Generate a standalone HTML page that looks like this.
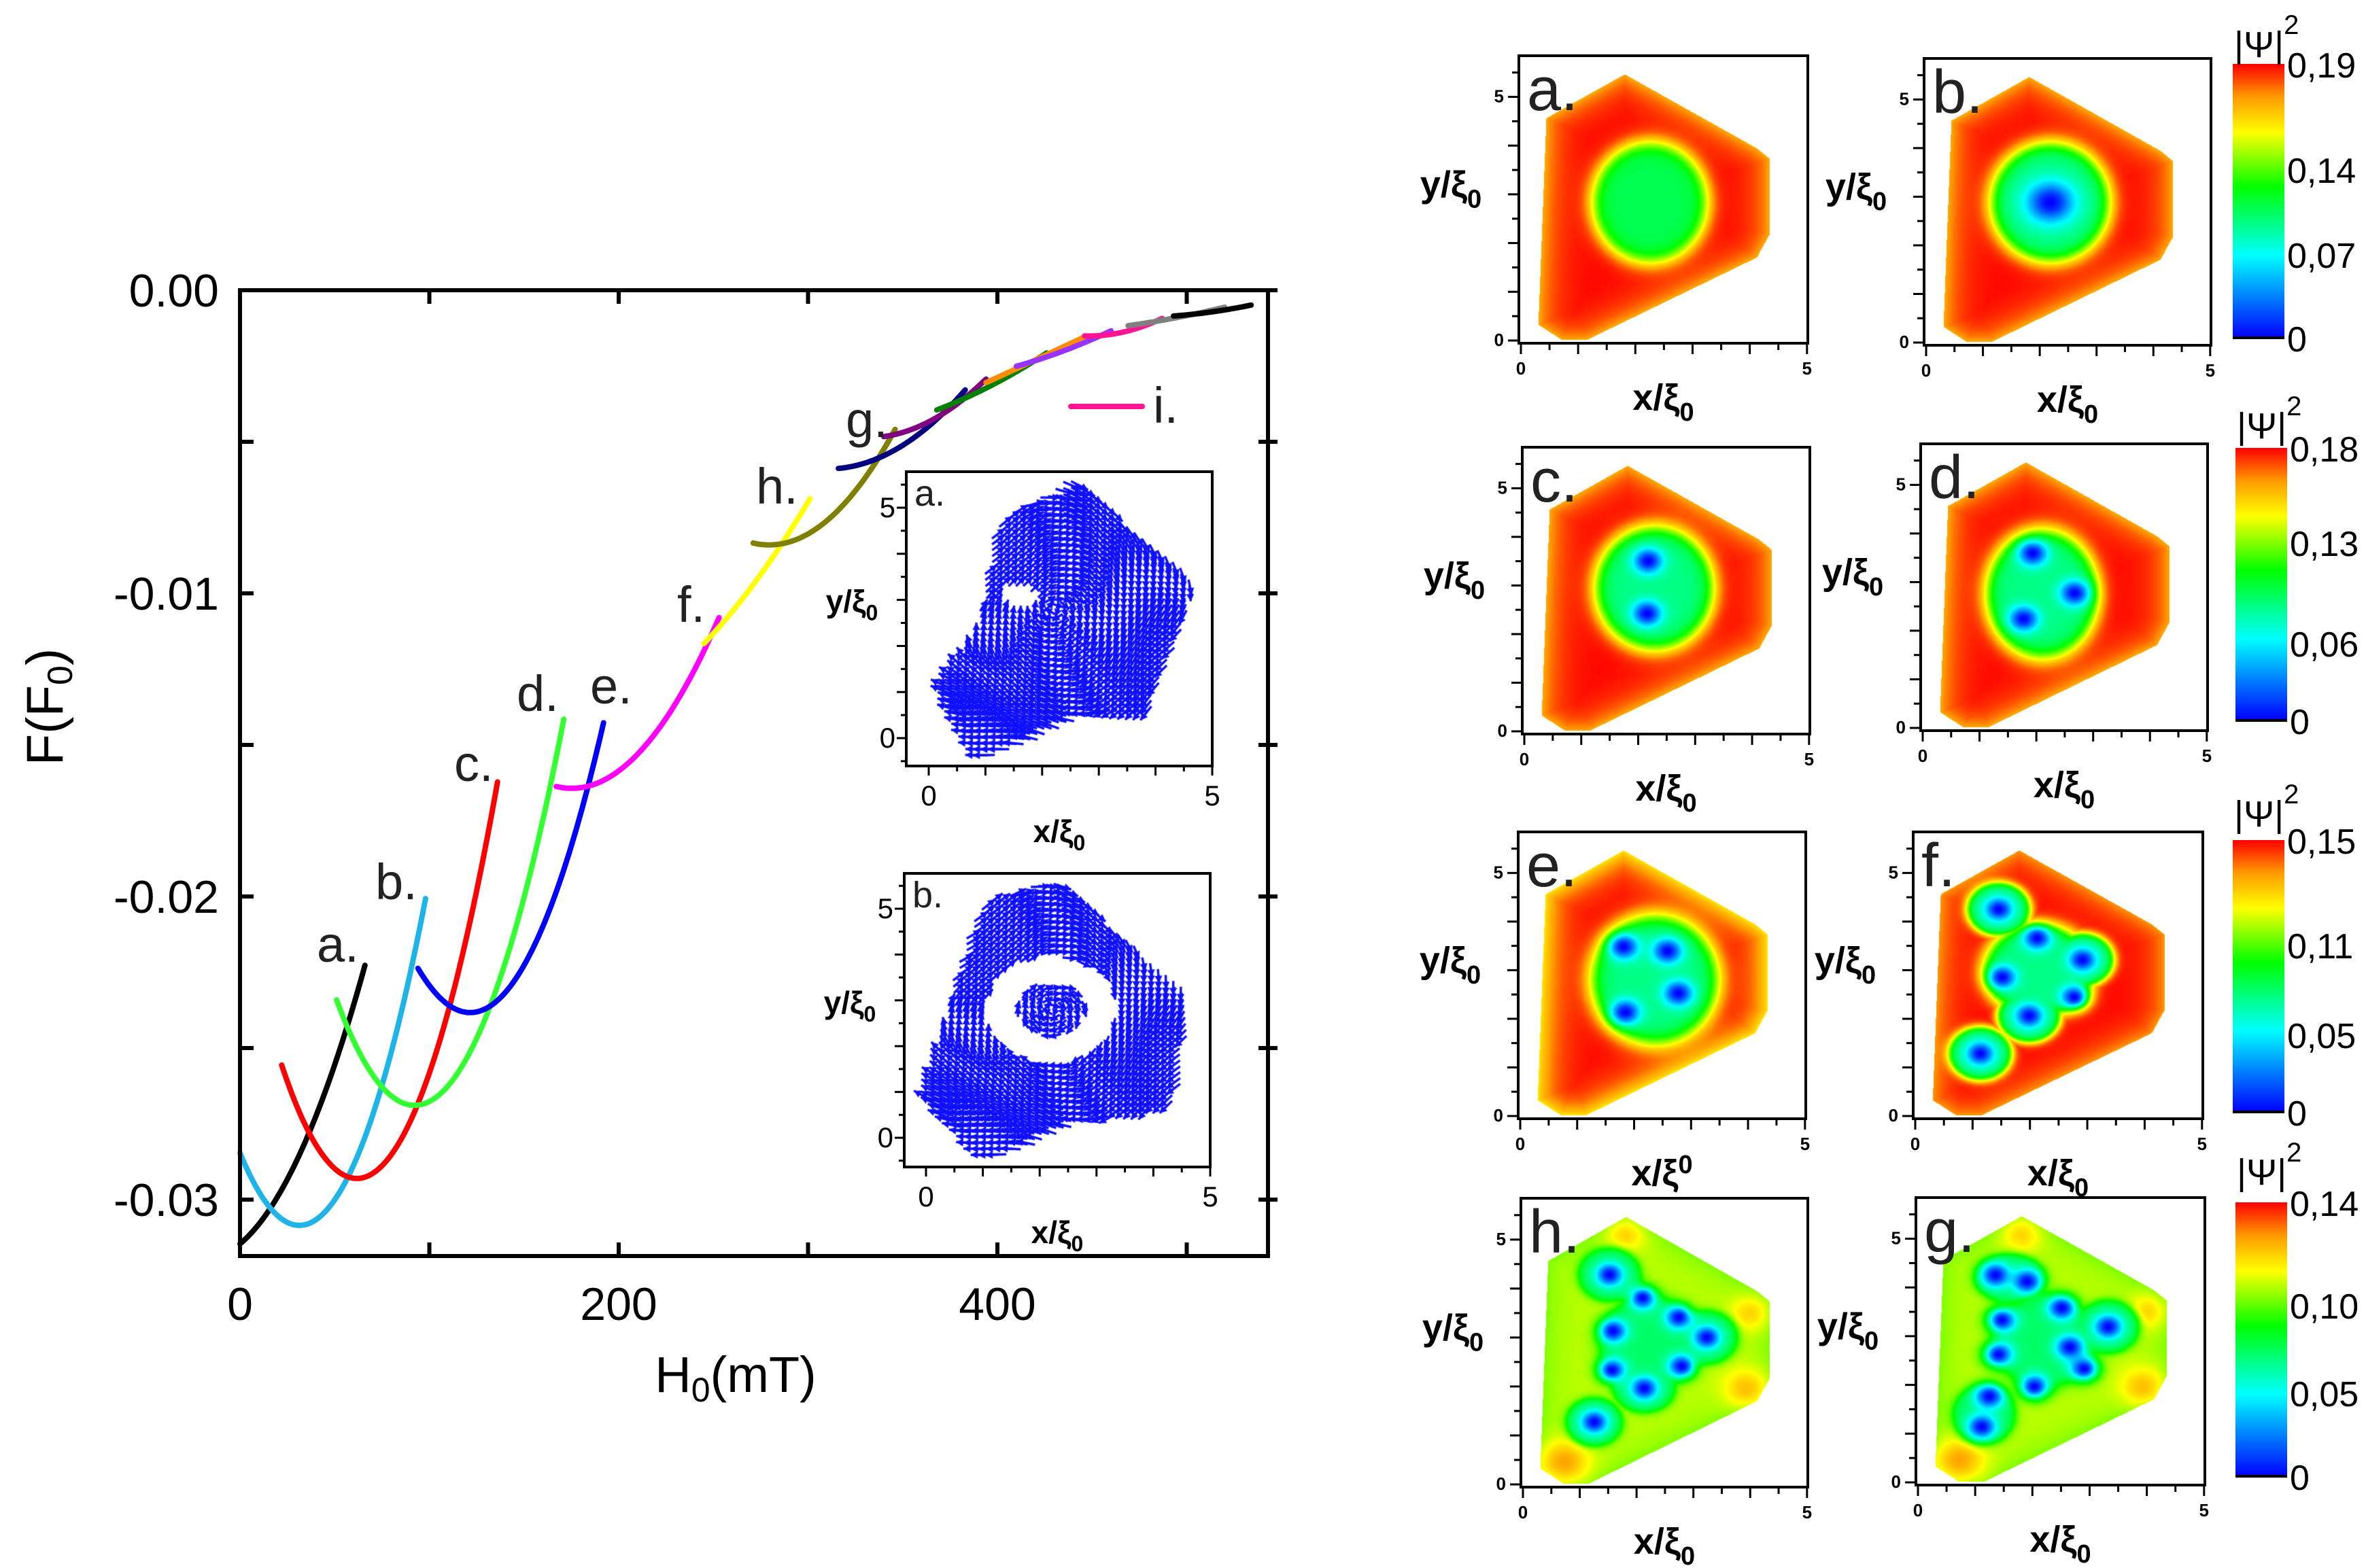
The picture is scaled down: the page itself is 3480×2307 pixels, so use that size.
<!DOCTYPE html>
<html><head><meta charset="utf-8">
<style>
html,body{margin:0;padding:0;background:#fff;}
#wrap{position:relative;width:3480px;height:2307px;overflow:hidden;background:#fff;}
canvas,svg{position:absolute;left:0;top:0;}
text{font-family:"Liberation Sans",Arial,sans-serif;}
</style></head>
<body>
<div id="wrap">
<canvas id="cv" width="3480" height="2307"></canvas>
<svg id="sv" width="3480" height="2307" viewBox="0 0 3480 2307" xmlns="http://www.w3.org/2000/svg">
<defs>
<linearGradient id="jet" x1="0" y1="1" x2="0" y2="0">
<stop offset="0" stop-color="#0000ff"/><stop offset="0.3" stop-color="#00ffff"/><stop offset="0.55" stop-color="#00ff00"/><stop offset="0.75" stop-color="#ffff00"/><stop offset="0.88" stop-color="#ff9900"/><stop offset="1" stop-color="#ff0000"/>
</linearGradient>
</defs>
</svg>
</div>
<script>
// ---------- main chart data ----------
const curveLabels=['a','b','c','d','e','f','f2','h','g','g2','g3','g4','g5','i','j','k'];
const curveH=[[0,33,66],[0,31,98],[22,58,136],[51,90,171],[94,122,192],[167,181,253],[245,270,301],[271,310,346],[316,345,383],[340,365,394],[368,395,426],[394,420,447],[410,435,460],[446,465,487],[469,495,520],[493,515,534]];
const curveF=[[-0.03146,-0.0283,-0.02227],[-0.02846,-0.03085,-0.02007],[-0.02556,-0.02927,-0.01622],[-0.02341,-0.02688,-0.01415],[-0.02237,-0.02383,-0.01427],[-0.01637,-0.0164,-0.0108],[-0.01166,-0.0098,-0.00688],[-0.00834,-0.0076,-0.00459],[-0.00588,-0.0053,-0.00329],[-0.00483,-0.0043,-0.00293],[-0.00395,-0.0032,-0.00207],[-0.00305,-0.0023,-0.00151],[-0.00251,-0.0020,-0.00134],[-0.00151,-0.0014,-0.00093],[-0.00117,-0.0009,-0.00056],[-0.00085,-0.0007,-0.00049]];
const curveColors=['#000000','#1eb4e8','#ff0000','#33ff33','#0000ff','#ff00ff','#ffff00','#808000','#000080','#800080','#008000','#ff8c00','#9933ff','#ff1493','#808080','#000000'];
const xTicks=[0,200,400];
const yTicks=[0,-0.01,-0.02,-0.03];
const yTickLabels=['0.00','-0.01','-0.02','-0.03'];

const NS='http://www.w3.org/2000/svg';
const sv=document.getElementById('sv');
function mk(tag,at,parent){const e=document.createElementNS(NS,tag);for(const k in at)e.setAttribute(k,at[k]);(parent||sv).appendChild(e);return e;}

const PL=353,PR=1865,PT=427,PB=1848;
const xs=h=>PL+h*2.785;
const ys=f=>PT-f*44600;

function lag(xa,ya,x){let s=0;for(let i=0;i<3;i++){let t=ya[i];for(let j=0;j<3;j++)if(j!==i)t*=(x-xa[j])/(xa[i]-xa[j]);s+=t;}return s;}
curveH.forEach((hx,i)=>{
  let d='';
  for(let k=0;k<=60;k++){const h=hx[0]+(hx[2]-hx[0])*k/60;const f=lag(hx,curveF[i],h);d+=(k?'L':'M')+xs(h).toFixed(1)+','+ys(f).toFixed(1);}
  const p=mk('path',{d:d,fill:'none',stroke:curveColors[i],'stroke-width':8,'stroke-linecap':'round'});
  
  
});
const fr=mk('rect',{x:PL,y:PT,width:PR-PL,height:PB-PT,fill:'none',stroke:'#000','stroke-width':6});


for(let h=0;h<=500;h+=100){
  const t1=mk('line',{x1:xs(h),x2:xs(h),y1:PB,y2:PB-20,stroke:'#000','stroke-width':6});
  
  
  const t2=mk('line',{x1:xs(h),x2:xs(h),y1:PT,y2:PT+20,stroke:'#000','stroke-width':6});
  
  
}
for(let k=0;k<=6;k++){const f=-0.005*k;
  const t1=mk('line',{x1:PL,x2:PL+20,y1:ys(f),y2:ys(f),stroke:'#000','stroke-width':6});
  
  
  const t2=mk('line',{x1:PR-14,x2:PR+14,y1:ys(f),y2:ys(f),stroke:'#000','stroke-width':6});
  
  
}
xTicks.forEach(h=>{const t=mk('text',{x:xs(h),y:1942,'font-size':68,'text-anchor':'middle'});t.textContent=h;
  
  });
yTicks.forEach((f,i)=>{const t=mk('text',{x:322,y:ys(f)+24,'font-size':68,'text-anchor':'end'});t.textContent=yTickLabels[i];
  
  });
const xt=mk('text',{x:1082,y:2048,'font-size':74,'text-anchor':'middle'});
xt.innerHTML='H<tspan font-size="50" dy="14">0</tspan><tspan dy="-14">(mT)</tspan>';


const yt=mk('text',{x:0,y:0,'font-size':76,'text-anchor':'middle',transform:'translate(92,1040) rotate(-90)'});
yt.innerHTML='F(F<tspan font-size="52" dy="14">0</tspan><tspan dy="-14">)</tspan>';


const lbls=[['a.',466,1415],['b.',552,1323],['c.',668,1149],['d.',760,1046],['e.',868,1035],['f.',996,915],['h.',1112,741],['g.',1244,643],['i.',1696,622]];
lbls.forEach(l=>{const t=mk('text',{x:l[1],y:l[2],'font-size':74,fill:'#222'});t.textContent=l[0];
  
  });
const il=mk('line',{x1:1575,x2:1680,y1:598,y2:598,stroke:'#ff1493','stroke-width':8,'stroke-linecap':'round'});



// ---------- canvas ----------
const cv=document.getElementById('cv');const ctx=cv.getContext('2d');
function jet(t){t=Math.max(0,Math.min(1,t));
  const st=[[0,0,0,255],[0.3,0,255,255],[0.55,0,255,0],[0.75,255,255,0],[0.88,255,153,0],[1,255,0,0]];
  for(let i=1;i<st.length;i++){if(t<=st[i][0]){const a=st[i-1],b=st[i],u=(t-a[0])/(b[0]-a[0]);return [a[1]+(b[1]-a[1])*u,a[2]+(b[2]-a[2])*u,a[3]+(b[3]-a[3])*u];}}
  return [255,0,0];}
const poly=[[0.44,4.57],[1.81,5.47],[4.12,3.95],[4.34,3.74],[4.34,2.18],[4.12,1.71],[1.15,0.02],[0.71,0.02],[0.30,0.33]];
function inside(P,x,y){let c=false;for(let i=0,j=P.length-1;i<P.length;j=i++){const a=P[i],b=P[j];if((a[1]>y)!==(b[1]>y)&&x<(b[0]-a[0])*(y-a[1])/(b[1]-a[1])+a[0])c=!c;}return c;}
function edist(P,x,y){let m=1e9;for(let i=0,j=P.length-1;i<P.length;j=i++){const a=P[j],b=P[i];const dx=b[0]-a[0],dy=b[1]-a[1];let t=((x-a[0])*dx+(y-a[1])*dy)/(dx*dx+dy*dy);t=Math.max(0,Math.min(1,t));const ex=a[0]+t*dx-x,ey=a[1]+t*dy-y;m=Math.min(m,Math.hypot(ex,ey));}return m;}

const panels=[
 {n:'a',L:2234,R:2659,T:82,B:505,base:1.0,inner:0.47,edge:0.14,isl:[[2.25,2.84,1.0,1.23]],vx:[],rc:0.2,blobs:[]},
 {n:'b',L:2830,R:3252,T:86,B:508,base:1.0,inner:0.42,edge:0.14,isl:[[2.18,2.89,1.04,1.22]],vx:[[2.18,2.89]],rc:0.42,blobs:[]},
 {n:'c',L:2239,R:2662,T:658,B:1080,base:1.0,inner:0.42,edge:0.14,isl:[[2.28,2.95,1.03,1.26]],vx:[[2.17,3.51],[2.15,2.43]],rc:0.25,blobs:[]},
 {n:'d',L:2825,R:3247,T:653,B:1075,base:1.0,inner:0.42,edge:0.14,isl:[[2.1,2.76,0.98,1.31]],vx:[[1.93,3.6],[2.67,2.78],[1.77,2.25]],rc:0.25,blobs:[]},
 {n:'e',L:2233,R:2656,T:1224,B:1646,base:1.0,inner:0.42,edge:0.22,isl:[[2.36,2.81,1.11,1.32]],vx:[[1.81,3.49],[2.58,3.4],[2.77,2.53],[1.84,2.14]],rc:0.25,blobs:[]},
 {n:'f',L:2814,R:3240,T:1224,B:1646,base:1.0,inner:0.42,edge:0.12,isl:[[2.15,3.0,0.95,0.95],[1.45,4.26,0.55,0.55],[1.13,1.29,0.55,0.55],[2.91,3.22,0.55,0.55],[1.98,2.07,0.55,0.55]],vx:[[1.45,4.26],[2.12,3.67],[2.91,3.22],[1.51,2.86],[2.77,2.45],[1.98,2.07],[1.13,1.29]],rc:0.23,blobs:[]},
 {n:'h',L:2237,R:2659,T:1763,B:2188,base:0.7,inner:0.45,edge:0.05,isl:[[2.2,2.9,0.85,0.95],[1.52,4.29,0.55,0.55],[3.23,3.01,0.55,0.55],[1.25,1.28,0.5,0.5],[2.13,1.97,0.55,0.5]],vx:[[1.52,4.29],[2.1,3.82],[2.74,3.42],[3.23,3.01],[1.58,3.14],[1.56,2.34],[2.79,2.42],[2.13,1.97],[1.25,1.28]],rc:0.23,blobs:[[0.7,0.45,0.18,0.45],[1.8,5.1,0.12,0.35],[3.95,1.95,0.15,0.4],[4.0,3.5,0.12,0.35]]},
 {n:'g',L:2818,R:3243,T:1762,B:2185,base:0.7,inner:0.45,edge:0.05,isl:[[2.2,2.9,0.85,0.95],[1.6,4.2,0.6,0.5],[3.32,3.2,0.55,0.55],[1.15,1.4,0.55,0.6]],vx:[[1.35,4.26],[1.9,4.13],[2.51,3.59],[3.32,3.2],[1.46,3.34],[2.65,2.78],[2.9,2.34],[1.4,2.63],[2.03,1.97],[1.24,1.77],[1.11,1.15]],rc:0.24,blobs:[[0.7,0.45,0.18,0.45],[1.8,5.1,0.12,0.35],[3.95,1.95,0.15,0.4],[4.0,3.5,0.12,0.35]]}
];
function sm(q,w){return 1/(1+Math.exp((q-1)/w));}
panels.forEach(p=>{
  const W=p.R-p.L,Hh=p.B-p.T;const xu=W/5.05,yu=Hh/5.9;const x0=p.L+3,y0=p.B-4;
  const img=ctx.createImageData(W,Hh);const D=img.data;
  for(let py=0;py<Hh;py++)for(let px=0;px<W;px++){
    const x=(p.L+px-x0)/xu,y=(y0-(p.T+py))/yu;
    if(!inside(poly,x,y))continue;
    const d=edist(poly,x,y);
    let v=p.base-p.edge*Math.exp(-d/0.3);
    p.blobs.forEach(b=>{const r2=(x-b[0])**2+(y-b[1])**2;v+=b[2]*Math.exp(-r2/(b[3]*b[3]));});
    let m=0;p.isl.forEach(s=>{const q=Math.hypot((x-s[0])/s[2],(y-s[1])/s[3]);m=Math.max(m,sm(q,0.09));});
    v=v*(1-m)+p.inner*m;
    p.vx.forEach(c=>{const r2=(x-c[0])**2+(y-c[1])**2;v*=(1-Math.exp(-r2/(p.rc*p.rc)));});
    const c=jet(v);const k=(py*W+px)*4;D[k]=c[0];D[k+1]=c[1];D[k+2]=c[2];D[k+3]=255;
  }
  ctx.putImageData(img,p.L,p.T);
  const g=mk('g',{});
  
  
  const r=mk('rect',{x:p.L,y:p.T,width:W,height:Hh,fill:'none',stroke:'#000','stroke-width':4},g);
  
  
  for(let k=0;k<=10;k++){const X=x0+k*0.5*xu;mk('line',{x1:X,x2:X,y1:p.B,y2:p.B+(k%2?10:16),stroke:'#000','stroke-width':3},g);}
  for(let k=0;k<=11;k++){const Y=y0-k*0.5*yu;if(Y<p.T)break;mk('line',{x1:p.L,x2:p.L-(k%2?10:16),y1:Y,y2:Y,stroke:'#000','stroke-width':3},g);}
  const tl=[[x0,p.B+46,'0','middle'],[x0+5*xu,p.B+46,'5','middle'],[p.L-22,y0+8,'0','end'],[p.L-22,y0-5*yu+8,'5','end']];
  tl.forEach(a=>{const t=mk('text',{x:a[0],y:a[1],'font-size':26,'font-weight':'bold','text-anchor':a[3]},g);t.textContent=a[2];
    
    });
  const lt=mk('text',{x:p.L+12,y:p.T+80,'font-size':90,fill:'#222'},g);lt.textContent=p.n+'.';
  
  
  const xl=mk('text',{x:p.L+W/2,y:p.B+98,'font-size':54,'font-weight':'bold','text-anchor':'middle'},g);
  xl.innerHTML=p.n==='e'?'x/ξ<tspan font-size="38" dy="-18">0</tspan>':'x/ξ<tspan font-size="38" dy="16">0</tspan>';
  
  
  const yl=mk('text',{x:p.L-100,y:p.T+Hh/2-4,'font-size':54,'font-weight':'bold','text-anchor':'middle'},g);
  yl.innerHTML='y/ξ<tspan font-size="38" dy="16">0</tspan>';
  
  
});

const cbars=[[3284,94,497,66,['0,19','0,14','0,07','0'],[94,249,374,497]],[3288,659,1060,627,['0,18','0,13','0,06','0'],[659,798,946,1060]],[3284,1236,1636,1198,['0,15','0,11','0,05','0'],[1236,1390,1522,1636]],[3288,1769,2172,1725,['0,14','0,10','0,05','0'],[1769,1920,2049,2172]]];
cbars.forEach((c,i)=>{
  const r=mk('rect',{x:c[0],y:c[1],width:76,height:c[2]-c[1],fill:'url(#jet)'});
  
  
  mk('line',{x1:c[0],x2:c[0]+76,y1:c[2],y2:c[2],stroke:'#000','stroke-width':4});
  const t=mk('text',{x:c[0]+2,y:c[3]+18,'font-size':54,'font-family':'Liberation Serif'});
  t.innerHTML='|Ψ|<tspan font-size="40" dy="-34">2</tspan>';
  
  
  c[4].forEach((s,k)=>{const tt=mk('text',{x:c[0]+80,y:c[5][k]+20,'font-size':52},);tt.textContent=s;
    
    });
});

const insetPolyA=[[0.1,1.15],[0.83,-0.5],[2.5,0.43],[3.8,0.43],[4.7,3.3],[2.66,5.56],[1.27,4.76],[0.9,2.5]];
const insetPolyB=[[-0.1,0.9],[1.0,-0.5],[2.55,0.3],[4.3,0.6],[4.6,3.0],[2.4,5.6],[1.05,5.2],[0.55,3.45]];
const insets=[{n:'a',L:1333,R:1783,T:694,B:1127,x0:1366,x5:1783,y0:1086,y5:747,poly:insetPolyA,ring:false},
              {n:'b',L:1330,R:1780,T:1285,B:1717,x0:1362,x5:1780,y0:1674,y5:1337,poly:insetPolyB,ring:true}];
insets.forEach(s=>{
  const xu=(s.x5-s.x0)/5,yu=(s.y0-s.y5)/5;
  ctx.strokeStyle='#1010ff';ctx.fillStyle='#1010ff';ctx.lineWidth=3.5;
  for(let y=-0.5;y<5.7;y+=0.13)for(let x=-0.2;x<4.8;x+=0.13){
    if(!inside(s.poly,x,y))continue;
    const cx=2.2,cy=2.8;const r=Math.hypot(x-cx,y-cy);
    if(s.ring&&(r<1.15&&r>0.6))continue;
    if(!s.ring&&Math.hypot(x-1.6,y-3.1)<0.3)continue;
    let ang=Math.atan2(y-cy,x-cx)-Math.PI/2+0.4*Math.sin(2*x+y);
    const len=(s.ring?0.2:0.22)+0.05*r;
    const X=s.x0+x*xu,Y=s.y0-y*yu;const dx=Math.cos(ang)*len*xu,dy=-Math.sin(ang)*len*yu;
    ctx.beginPath();ctx.moveTo(X-dx/2,Y-dy/2);ctx.lineTo(X+dx/2,Y+dy/2);ctx.stroke();
    const hx=X+dx/2,hy=Y+dy/2,a=Math.atan2(dy,dx);
    ctx.beginPath();ctx.moveTo(hx,hy);ctx.lineTo(hx-12*Math.cos(a-0.5),hy-12*Math.sin(a-0.5));ctx.lineTo(hx-12*Math.cos(a+0.5),hy-12*Math.sin(a+0.5));ctx.fill();
  }
  const g=mk('g',{});
  
  
  const r=mk('rect',{x:s.L,y:s.T,width:s.R-s.L,height:s.B-s.T,fill:'none',stroke:'#000','stroke-width':4},g);
  
  
  for(let k=0;k<=10;k++){const X=s.x0+k*0.5*xu;if(X>s.R+1)break;mk('line',{x1:X,x2:X,y1:s.B,y2:s.B+(k%2?8:14),stroke:'#000','stroke-width':3},g);}
  for(let k=-1;k<=11;k++){const Y=s.y0-k*0.5*yu;if(Y<s.T||Y>s.B)continue;mk('line',{x1:s.L,x2:s.L-(k%2?8:14),y1:Y,y2:Y,stroke:'#000','stroke-width':3},g);}
  [[s.x0,s.B+58,'0','middle'],[s.x5,s.B+58,'5','middle'],[s.L-16,s.y0+14,'0','end'],[s.L-16,s.y5+14,'5','end']].forEach(a=>{
    const t=mk('text',{x:a[0],y:a[1],'font-size':42,'text-anchor':a[3]},g);t.textContent=a[2];
    
    });
  const lt=mk('text',{x:s.L+12,y:s.T+50,'font-size':54,fill:'#222'},g);lt.textContent=s.n+'.';
  
  
  const xl=mk('text',{x:(s.L+s.R)/2,y:s.B+112,'font-size':46,'font-weight':'bold','text-anchor':'middle'},g);
  xl.innerHTML='x/ξ<tspan font-size="32" dy="12">0</tspan>';
  
  
  const yl=mk('text',{x:s.L-80,y:(s.T+s.B)/2-10,'font-size':46,'font-weight':'bold','text-anchor':'middle'},g);
  yl.innerHTML='y/ξ<tspan font-size="32" dy="12">0</tspan>';
  
  
});
</script>
</body></html>
